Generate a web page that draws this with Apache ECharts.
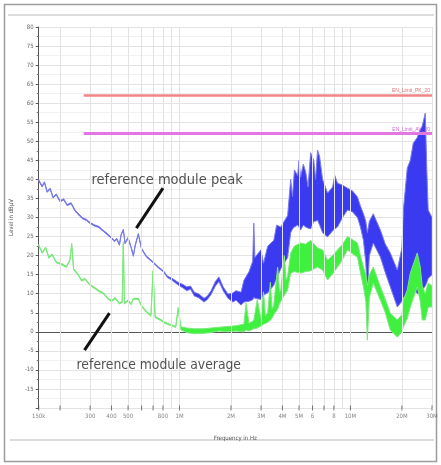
<!DOCTYPE html>
<html><head><meta charset="utf-8">
<script src="https://cdn.jsdelivr.net/npm/echarts@6/dist/echarts.min.js"></script>
<style>html,body{margin:0;padding:0;background:#fff}#c{width:441px;height:465px}</style>
</head><body><div id="c"></div>
<script>
// ---- data (frequency in MHz, level in dBµV) ----
const peakFreq = [0.150,0.157,0.162,0.168,0.175,0.182,0.190,0.200,0.210,0.220,0.232,0.245,0.258,0.270,0.285,0.300,0.320,0.336,0.355,0.375,0.395,0.416,0.430,0.445,0.455,0.469,0.480,0.500,0.520,0.537,0.550,0.574,0.600,0.640,0.700,0.750,0.810,0.850,0.900,0.980,
  1.05,1.10,1.16,1.22,1.30,1.39,1.45,1.53,1.62,1.70,1.80,1.92,2.05,2.14,2.29,2.38,2.55,2.68,2.72,2.76,2.99,3.10,3.28,3.56,3.70,3.91,4.29,
  4.47,4.58,4.70,4.91,5.00,5.11,5.30,5.47,5.65,5.85,6.10,6.25,6.42,6.60,6.87,7.35,7.86,8.10,8.40,
  8.99,9.61,10.27,10.99,11.44,11.91,12.30,12.56,12.90,13.60,14.97,16.00,17.10,18.80,20.00,20.40,21.50,22.40,23.30,24.60,25.60,26.30,27.40,28.00,28.50,30.00];
const peakLow  = [39.6,38.0,39.1,36.6,37.4,35.1,35.9,34.1,34.6,33.1,33.6,31.6,30.6,29.7,29.2,28.4,27.7,27.4,26.5,25.6,24.7,23.7,24.2,22.7,25.3,26.6,23.1,24.5,22.1,19.8,22.5,25.5,21.6,19.6,18.1,16.8,15.6,14.2,13.6,12.3,
  11.5,10.8,11.2,9.4,8.9,7.8,8.4,9.8,12.0,13.2,10.8,8.8,7.8,8.3,7.0,7.8,8.0,8.4,9.0,8.8,8.5,9.6,10.2,12.2,14.0,16.5,19.5,
  26.0,27.0,27.5,28.0,27.5,26.7,28.0,27.5,27.2,27.0,29.0,29.0,29.3,28.0,26.0,24.9,26.5,27.0,27.5,
  30.0,32.0,31.5,30.0,27.5,24.0,18.0,9.1,20.0,23.3,19.6,15.5,11.8,6.5,8.0,9.0,10.0,11.0,11.8,10.0,10.0,11.0,12.0,13.0,14.0,15.0];
const peakHigh = [39.9,38.3,39.4,36.9,37.7,35.4,36.2,34.4,34.9,33.4,33.9,31.9,30.9,30.0,29.5,28.7,28.0,27.7,26.8,25.9,25.0,24.0,24.5,23.0,25.6,26.9,23.4,24.8,22.4,20.1,22.8,25.8,21.9,19.9,18.4,17.1,15.9,14.6,14.1,13.0,
  12.4,11.8,12.0,10.4,9.9,8.8,9.3,10.8,13.2,14.4,11.8,9.9,10.2,10.8,10.4,13.5,15.8,18.5,28.5,19.5,21.5,18.0,22.5,24.0,28.0,27.5,30.5,
  40.0,35.5,42.5,41.0,45.0,40.6,44.0,42.0,38.0,47.0,45.0,40.0,47.7,46.0,40.0,36.4,38.0,41.0,39.0,
  38.5,37.7,37.0,35.4,33.0,31.0,29.0,26.0,29.0,31.0,26.7,23.0,20.7,16.2,22.0,32.0,43.0,45.0,49.5,51.0,53.0,54.0,57.4,42.0,32.0,30.0];

const avgFreq = [0.150,0.157,0.165,0.172,0.180,0.190,0.204,0.218,0.228,0.234,0.240,0.255,0.267,0.280,0.300,0.320,0.336,0.360,0.380,0.400,0.420,0.445,0.462,0.469,0.476,0.500,0.520,0.537,0.574,0.600,0.640,0.680,0.700,0.720,0.780,0.813,0.880,0.950,
  0.982,1.02,1.10,1.22,1.39,1.53,1.70,1.92,2.14,2.38,2.45,2.55,2.72,2.85,
  2.99,3.10,3.18,3.28,3.40,3.48,3.56,3.75,3.85,3.91,4.10,4.20,4.29,
  4.47,4.70,5.11,5.47,5.85,6.42,6.87,7.35,7.86,8.40,9.00,9.61,10.27,10.99,11.44,11.91,12.30,12.56,12.90,13.60,14.97,16.00,17.10,18.80,20.00,20.40,21.50,22.40,24.60,25.60,26.30,27.40,28.50,30.00];
const avgLow  = [22.6,20.6,21.9,19.3,20.1,18.1,17.6,16.9,18.6,22.6,16.3,14.9,13.3,13.7,12.1,11.3,10.6,9.9,8.6,7.9,8.7,7.3,7.7,23.0,7.3,8.1,7.1,8.5,8.5,6.6,5.1,4.1,15.5,3.7,2.9,2.3,1.7,1.1,
  5.8,0.5,-0.2,-0.5,-0.4,-0.2,0.2,0.0,0.2,0.0,0.5,0.2,0.8,1.0,
  1.5,2.0,2.2,2.5,3.0,3.6,4.5,6.0,7.4,8.0,9.5,10.3,11.0,
  15.4,15.8,15.4,15.8,16.0,17.0,16.2,13.6,15.2,17.0,19.0,21.5,20.5,19.6,15.5,11.8,8.0,-2.2,9.0,12.8,8.3,5.0,0.5,-1.4,0.0,1.3,3.5,6.5,11.8,8.0,3.1,3.1,6.5,6.5];
const avgHigh = [22.9,20.9,22.2,19.6,20.4,18.4,17.9,17.2,18.9,23.2,16.6,15.2,13.6,14.0,12.4,11.6,10.9,10.2,8.9,8.2,9.0,7.6,8.0,23.6,7.6,8.4,7.4,8.8,8.8,6.9,5.4,4.4,16.1,4.0,3.2,2.6,2.0,1.4,
  6.4,1.3,1.0,0.8,0.8,1.0,1.2,1.4,1.6,2.0,7.5,2.2,3.0,8.5,
  3.5,10.5,4.2,5.0,13.0,6.0,7.0,17.0,10.4,11.0,20.0,13.6,14.5,
  20.7,22.5,23.3,23.0,24.0,22.0,21.5,18.8,20.0,21.5,23.0,25.0,24.2,23.3,20.0,17.0,15.0,12.0,15.0,17.0,11.8,8.5,4.9,3.1,4.5,8.3,11.0,15.4,20.7,17.0,12.0,10.0,12.8,12.0];

const limitPkLevel = 62, limitAvLevel = 52;
const limitRange = [0.275, 30];
const limitPkName = 'EN_Limit_PK_20', limitAvName = 'EN_Limit_AV_20';

const xTickFreqs  = [0.15,0.3,0.4,0.5,0.8,1,2,3,4,5,6,8,10,20,30];
const xTickLabels = ['150k','300','400','500','800','1M','2M','3M','4M','5M','6','8','10M','20M','30M'];
const xMarkFreqs  = [0.15,0.2,0.3,0.4,0.5,0.6,0.7,0.8,1,2,3,4,5,6,7,8,10,20,30];
const xGridFreqs  = [0.2,0.3,0.4,0.5,0.6,0.7,0.8,0.9,1,2,3,4,5,6,7,8,9,10,20,30];

const peakArrow = [[0.80,37.7],[0.559,27.2]];
const avgArrow  = [[0.389,4.9],[0.278,-4.8]];
const peakText = {pos:[0.3055,39.8], text:'reference module peak'};
const avgText  = {pos:[0.2498,-8.7], text:'reference module average'};

// ---- build ----
const BLUE = '#3a3af0', BLUE_L = '#7b7bea', GREEN = '#3ff03f', GREEN_L = '#7de87d';

function bandSeries(name, freq, lo, hi, fill, stroke, z) {
  return {
    type: 'custom', name, z, silent: true, clip: true,
    data: freq.map((f, i) => [f, lo[i], hi[i]]),
    encode: {x: 0, y: [1, 2]},
    renderItem: function (params, api) {
      if (params.dataIndex !== 0) return null;
      const up = freq.map((f, i) => api.coord([f, hi[i]]));
      const dn = freq.map((f, i) => api.coord([f, lo[i]])).reverse();
      return {type: 'polygon', shape: {points: up.concat(dn)},
        style: {fill: fill, stroke: stroke, lineWidth: 1, lineJoin: 'round'}};
    }
  };
}

const chart = echarts.init(document.getElementById('c'));
const option = {
  animation: false,
  backgroundColor: '#fff',
  grid: {left: 37, right: 9, top: 27, bottom: 57},
  xAxis: {
    type: 'log', logBase: 10, min: 0.15, max: 30,
    axisLine: {show: true, lineStyle: {color: '#555', width: 1}},
    axisTick: {show: false}, axisLabel: {show: false}, splitLine: {show: false},
    name: 'Frequency in Hz', nameLocation: 'middle', nameGap: 27,
    nameTextStyle: {fontSize: 6, color: '#555', fontFamily: 'DejaVu Sans Condensed'}
  },
  yAxis: {
    type: 'value', min: -20, max: 80, interval: 5,
    axisLine: {show: true, lineStyle: {color: '#555', width: 1}},
    axisTick: {show: true, length: 3, lineStyle: {color: '#555'}},
    minorTick: {show: true, splitNumber: 2, length: 2, lineStyle: {color: '#777'}},
    axisLabel: {fontSize: 6, color: '#666', margin: 5, showMinLabel: false, fontFamily: 'DejaVu Sans Condensed'},
    splitLine: {show: true, lineStyle: {color: '#e3e3e3', width: 1}},
    minorSplitLine: {show: true, lineStyle: {color: '#f1f1f1', width: 1}},
    name: 'Level in dBµV', nameLocation: 'middle', nameGap: 24, nameRotate: 90,
    nameTextStyle: {fontSize: 6, color: '#555', fontFamily: 'DejaVu Sans Condensed'}
  },
  graphic: [
    {type: 'rect', z: -10, shape: {x: 4.5, y: 4.5, width: 432, height: 457}, style: {fill: null, stroke: '#9c9c9c', lineWidth: 1.5}},
    {type: 'line', z: -10, shape: {x1: 8, y1: 15, x2: 434, y2: 15}, style: {stroke: '#dcdcdc', lineWidth: 2}},
    {type: 'line', z: -10, shape: {x1: 10, y1: 440, x2: 434, y2: 440}, style: {stroke: '#dcdcdc', lineWidth: 2}}
  ],
  series: [
    { // vertical grid lines
      type: 'line', data: [], silent: true, z: 1,
      markLine: {silent: true, symbol: 'none', label: {show: false},
        lineStyle: {color: '#e3e3e3', width: 1, type: 'solid'},
        data: xGridFreqs.map(f => ({xAxis: f}))}
    },
    { // limit lines
      type: 'line', data: [], silent: true, z: 2,
      markLine: {silent: true, symbol: 'none',
        data: [
          [{coord: [limitRange[0], limitPkLevel], lineStyle: {color: '#ef8585', width: 2.5, type: 'solid'},
            label: {show: true, position: 'insideEndTop', formatter: limitPkName, fontSize: 5, color: '#e07070', distance: 2}},
           {coord: [limitRange[1], limitPkLevel]}],
          [{coord: [limitRange[0], limitAvLevel], lineStyle: {color: '#e277e2', width: 3, type: 'solid'},
            label: {show: true, position: 'insideEndTop', formatter: limitAvName, fontSize: 5, color: '#c868c8', distance: 2}},
           {coord: [limitRange[1], limitAvLevel]}]
        ]}
    },
    bandSeries('peak', peakFreq, peakLow, peakHigh, BLUE, BLUE_L, 3),
    bandSeries('average', avgFreq, avgLow, avgHigh, GREEN, GREEN_L, 4),
    {type: 'line', data: peakArrow, symbol: 'none', z: 6, lineStyle: {color: '#111', width: 3}},
    {type: 'line', data: avgArrow, symbol: 'none', z: 6, lineStyle: {color: '#111', width: 3}},
    { // annotation texts
      type: 'scatter', symbolSize: 0, z: 7, silent: true,
      data: [
        {value: peakText.pos, label: {formatter: peakText.text, fontSize: 14.5}},
        {value: avgText.pos, label: {formatter: avgText.text}}
      ],
      label: {show: true, position: 'right', distance: 0, fontSize: 13.8, color: '#262626',
        fontFamily: 'DejaVu Sans Condensed'}
    },
    { // x tick marks
      type: 'scatter', symbol: 'rect', symbolSize: [1, 5], z: 5, silent: true,
      itemStyle: {color: '#555'},
      data: xMarkFreqs.map(f => [f, -20])
    },
    { // x tick labels
      type: 'scatter', symbolSize: 0, z: 5, silent: true,
      data: xTickFreqs.map((f, i) => ({value: [f, -20], label: {formatter: xTickLabels[i]}})),
      label: {show: true, position: 'bottom', distance: 5, fontSize: 6, color: '#666',
        fontFamily: 'DejaVu Sans Condensed'}
    }
  ]
};
chart.setOption(option);
</script>
</body></html>
